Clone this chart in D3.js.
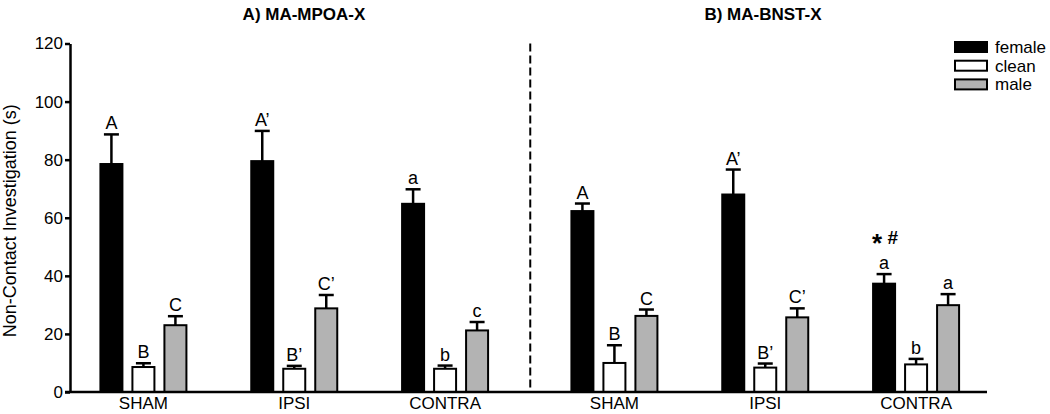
<!DOCTYPE html>
<html>
<head>
<meta charset="utf-8">
<script src="https://cdn.jsdelivr.net/npm/d3@7"></script>
<style>
  html, body { margin: 0; padding: 0; background: #fff; }
  svg { display: block; font-family: "Liberation Sans", Arial, sans-serif; }
</style>
</head>
<body>
<svg id="chart" width="1050" height="414"></svg>
<script>
// ---------- data ----------
const panels = ["A) MA-MPOA-X", "B) MA-BNST-X"];
const groups = ["SHAM", "IPSI", "CONTRA"];
const series = ["female", "clean", "male"];
const colors = ["#000000", "#ffffff", "#b3b3b3"];

// means, per panel, per group: [female, clean, male]
const meansA = [[78.5, 8.6, 23.0], [79.5, 8.0, 28.8], [64.8, 8.0, 21.2]];
const errA   = [[10.2, 1.3, 3.1], [10.4, 1.0, 4.6], [5.0, 1.1, 2.9]];
const lettersA = [["A", "B", "C"], ["A’", "B’", "C’"], ["a", "b", "c"]];

const meansB = [[62.3, 10.0, 26.2], [68.0, 8.4, 25.7], [37.3, 9.5, 29.9]];
const errB   = [[2.6, 6.1, 2.2], [8.6, 1.4, 3.1], [3.3, 1.9, 3.8]];
const lettersB = [["A", "B", "C"], ["A’", "B’", "C’"], ["a", "b", "a"]];

const yTicks = [0, 20, 40, 60, 80, 100, 120];
const yLabel = "Non-Contact Investigation (s)";

// ---------- layout ----------
const svg = d3.select("#chart");
const y = d3.scaleLinear().domain([0, 120]).range([392, 43.5]);
const panelRanges = [[68, 520.5], [539, 991.5]];
const titleX = [304, 763];
const inner = d3.scaleBand().domain(series).range([-44, 44]).paddingInner(0.25);

const panelData = [
  { means: meansA, err: errA, letters: lettersA },
  { means: meansB, err: errB, letters: lettersB }
];

// dashed divider
const divX = (panelRanges[0][1] + panelRanges[1][0]) / 2 + 0.5;
svg.append("line")
  .attr("x1", divX).attr("x2", divX)
  .attr("y1", y(120)).attr("y2", y(0))
  .attr("stroke", "#000").attr("stroke-width", 2)
  .attr("stroke-dasharray", "8,4");

panelData.forEach((pd, pi) => {
  const xg = d3.scaleBand().domain(groups).range(panelRanges[pi]).padding(0);
  const cx = g => xg(g) + xg.bandwidth() / 2;

  // title
  svg.append("text")
    .attr("x", titleX[pi]).attr("y", 20)
    .attr("text-anchor", "middle")
    .attr("font-size", 17).attr("font-weight", "bold")
    .text(panels[pi]);

  groups.forEach((g, gi) => {
    series.forEach((s, si) => {
      const v = pd.means[gi][si];
      const e = pd.err[gi][si];
      const bx = cx(g) + inner(s);
      const bw = inner.bandwidth();
      const mid = bx + bw / 2;
      // error bar
      svg.append("line")
        .attr("x1", mid).attr("x2", mid)
        .attr("y1", y(v)).attr("y2", y(v + e))
        .attr("stroke", "#000").attr("stroke-width", 2.5);
      svg.append("line")
        .attr("x1", mid - 7.5).attr("x2", mid + 7.5)
        .attr("y1", y(v + e)).attr("y2", y(v + e))
        .attr("stroke", "#000").attr("stroke-width", 2.5);
      // bar
      svg.append("rect")
        .attr("x", bx + 1).attr("width", bw - 2)
        .attr("y", y(v)).attr("height", y(0) - y(v))
        .attr("fill", colors[si])
        .attr("stroke", "#000").attr("stroke-width", 2);
      // letter
      svg.append("text")
        .attr("x", mid).attr("y", y(v + e) - 5)
        .attr("text-anchor", "middle")
        .attr("font-size", 18)
        .text(pd.letters[gi][si]);
      // significance marks
      if (pi === 1 && g === "CONTRA" && s === "female") {
        const t = svg.append("text")
          .attr("x", mid + 1).attr("y", y(v + e) - 30)
          .attr("text-anchor", "middle");
        t.append("tspan").attr("font-size", 26).attr("font-weight", "bold").attr("dy", 8).text("*");
        t.append("tspan").attr("font-size", 19).attr("font-weight", "bold").attr("dy", -8).text(" #");
      }
    });
    // category label
    svg.append("text")
      .attr("x", cx(g)).attr("y", 409)
      .attr("text-anchor", "middle")
      .attr("font-size", 17)
      .text(g);
  });
});

// axes
const yAxis = d3.axisLeft(y).tickValues(yTicks).tickSize(5).tickSizeOuter(0).tickPadding(2);
const ya = svg.append("g").attr("transform", "translate(70,0)").call(yAxis);
ya.select(".domain").attr("stroke-width", 2.5);
ya.selectAll(".tick line").attr("stroke-width", 2.5);
ya.selectAll(".tick text").attr("font-size", 17).attr("font-family", "Liberation Sans, Arial, sans-serif").attr("fill", "#000");

svg.append("line")
  .attr("x1", 65).attr("x2", 987)
  .attr("y1", y(0)).attr("y2", y(0))
  .attr("stroke", "#000").attr("stroke-width", 2.5);

// y label
svg.append("text")
  .attr("transform", `translate(16,${(y(0) + y(120)) / 2 + 3}) rotate(-90)`)
  .attr("text-anchor", "middle")
  .attr("font-size", 18)
  .text(yLabel);

// legend
const leg = svg.append("g").attr("transform", "translate(955,42)");
series.forEach((s, i) => {
  leg.append("rect")
    .attr("x", 0).attr("y", i * 18.7).attr("width", 32).attr("height", 10)
    .attr("fill", colors[i]).attr("stroke", "#000").attr("stroke-width", 2);
  leg.append("text")
    .attr("x", 40).attr("y", i * 18.7 + 5).attr("dy", "0.35em")
    .attr("font-size", 17)
    .text(s);
});
</script>
</body>
</html>
